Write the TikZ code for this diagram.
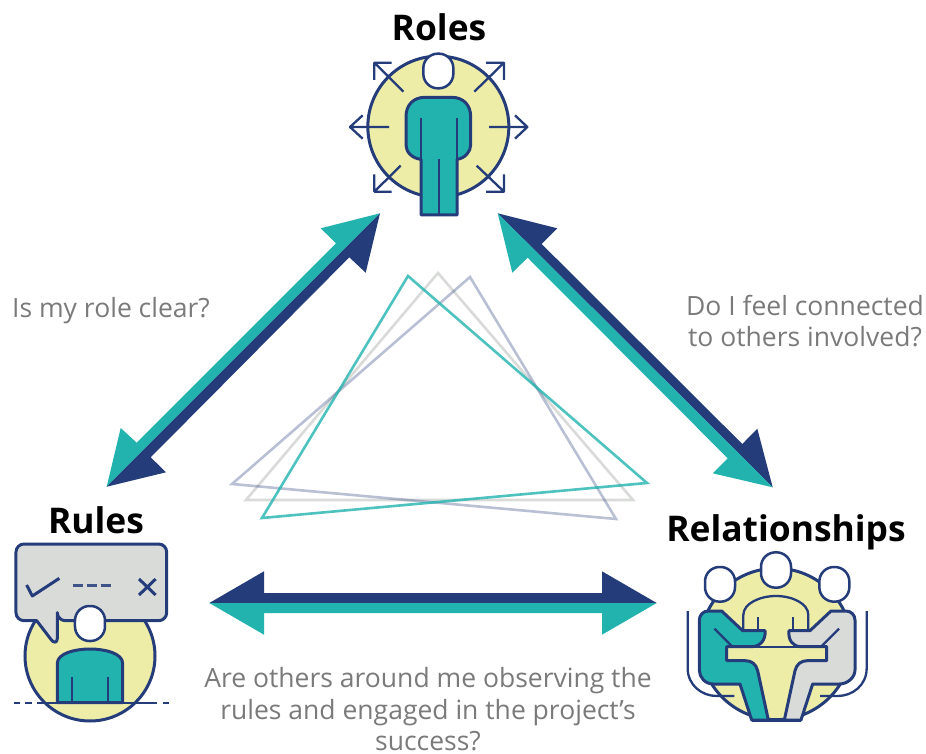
\documentclass[tikz,border=0pt]{standalone}
\usepackage{fontspec}
\setmainfont{Open Sans}
\definecolor{teal1}{HTML}{22B3AF}
\definecolor{navy1}{HTML}{243C7A}
\definecolor{yell1}{HTML}{EDEDA8}
\definecolor{gray1}{HTML}{D9DBD9}
\definecolor{txt1}{HTML}{7A7A7A}
\tikzset{
  ttl/.style={font=\fontsize{35.4}{40}\selectfont\bfseries,text=black,inner sep=0pt},
  captext/.style={font=\fontsize{26.5}{31.5}\selectfont,text=txt1,align=center,inner sep=0pt},
  ink/.style={draw=navy1,line width=3pt,line join=round},
  thin ink/.style={draw=navy1,line width=2.3pt,line join=round},
  disc/.style={ink,fill=yell1},
  headshape/.style={draw=navy1,line width=2.5pt,fill=white,rounded corners=14.5pt},
  tri/.style={line width=2.6pt,line join=miter},
  icon/.style={x=0.33333pt,y=-0.33333pt},
}
\begin{document}
\begin{tikzpicture}[x=1pt,y=-1pt]
\useasboundingbox (0,0) rectangle (926,754);
% triangles
\draw[tri,draw=gray1] (438,273) -- (633,500) -- (246,500) -- cycle;
\draw[tri,draw=navy1,draw opacity=.32] (470,277) -- (616,519) -- (232,484) -- cycle;
\draw[tri,draw=teal1,draw opacity=.8] (408,276) -- (647,483) -- (262,518) -- cycle;
% arrow ends
\coordinate (lt) at (380,213.3);
\coordinate (lb) at (106.7,486.7);
\coordinate (rt) at (497.7,213.3);
\coordinate (rb) at (772.7,487.3);
\coordinate (bl) at (209.3,603);
\coordinate (br) at (656.7,603);
% left arrow
\fill[teal1] (lt) -- (320.7,228.3) -- (336,243.3) -- (136.7,442.7) -- (120.7,428) -- (lb) -- cycle;
\fill[navy1] (lt) -- (365.7,272.7) -- (349.3,257.3) -- (150.7,457.3) -- (166,472.3) -- (lb) -- cycle;
% right arrow
\fill[navy1] (rt) -- (557.3,228.3) -- (541.7,244) -- (742.3,444) -- (757.3,428.7) -- (rb) -- cycle;
\fill[teal1] (rt) -- (512.3,272.7) -- (527.7,257.7) -- (727.7,458.3) -- (712.7,473.3) -- (rb) -- cycle;
% bottom arrow
\fill[navy1] (bl) -- (264,571.3) -- (264,593) -- (602,593) -- (602,571.3) -- (br) -- cycle;
\fill[teal1] (bl) -- (264,634.7) -- (264,613) -- (602,613) -- (602,634.7) -- (br) -- cycle;
% texts
\node[ttl] (troles) at (439,27) {Roles};
\node[ttl] (trules) at (96,520) {Rules};
\node[ttl] (trel) at (786,532) {Relationships};
\node[captext,anchor=west] (q1) at (12,311) {Is my role clear?};
\node[captext] (q2) at (805,321) {Do I feel connected\\to others involved?};
\node[captext] (q3) at (428,709.5) {Are others around me observing the\\rules and engaged in the project’s\\success?};
% Roles icon
\begin{scope}[icon,xshift=340pt,yshift=-40pt]
  \draw[disc] (295,260) circle (70.5pt);
  \draw[thin ink] (155,68) -- (103,68) -- (103,120) (103,68) -- (190,155);
  \draw[thin ink] (438,68) -- (492,68) -- (492,120) (492,68) -- (403,155);
  \draw[thin ink] (103,403) -- (103,455) -- (155,455) (103,455) -- (182,377);
  \draw[thin ink] (492,403) -- (492,455) -- (438,455) (492,455) -- (410,377);
  \draw[thin ink] (147,261) -- (30,261) (68,226) -- (30,261) -- (68,296);
  \draw[thin ink] (447,261) -- (562,261) (525,226) -- (562,261) -- (525,296);
  \draw[headshape] (250,41) rectangle (340,145);
  \draw[ink,fill=teal1] (243,525) -- (243,358)
    .. controls (215,355) and (198,335) .. (198,315) -- (198,230)
    .. controls (198,195) and (220,172) .. (255,172) -- (335,172)
    .. controls (370,172) and (392,195) .. (392,230) -- (392,315)
    .. controls (392,335) and (375,355) .. (351,358) -- (351,525) -- cycle;
  \draw[thin ink] (243,235) -- (243,358) (351,235) -- (351,358) (297,358) -- (297,525);
\end{scope}
% Rules icon
\begin{scope}[icon,yshift=-530pt]
  \draw[disc] (270,378) circle (65pt);
  \draw[ink,fill=gray1] (172,272) -- (172,325)
    .. controls (172,340) and (160,340) .. (152,327) -- (110,272) [rounded corners=8pt] -- (48,272) -- (48,42) -- (500,42) -- (500,272) -- (172,272) [sharp corners] -- cycle;
  \draw[ink] (178,145) -- (97,198) -- (80,165);
  \draw[ink,line width=2.4pt,draw opacity=.85] (218,166) -- (248,166) (260,166) -- (290,166) (302,166) -- (332,166);
  \draw[ink] (417,147) -- (467,195) (467,147) -- (417,195);
  \draw[headshape] (225,228) rectangle (315,333);
  \draw[ink,fill=teal1] (172,518) -- (172,400) .. controls (172,370) and (225,357) .. (270,357)
    .. controls (315,357) and (368,370) .. (368,400) -- (368,518) -- cycle;
  \draw[thin ink] (217,440) -- (217,518) (323,440) -- (323,518);
  \draw[thin ink] (42,518) -- (60,518) (75,518) -- (95,518) (112,518) -- (472,518) (490,518) -- (508,518);
\end{scope}
% Relationships icon
\begin{scope}[icon,xshift=670pt,yshift=-540pt]
  \draw[disc] (318,312) circle (75.7pt);
  \draw[thin ink] (53,213) -- (53,385) .. controls (53,435) and (95,468) .. (140,468) -- (193,468);
  \draw[thin ink] (590,213) -- (590,385) .. controls (590,435) and (548,468) .. (503,468) -- (450,468);
  \draw[thin ink] (220,272) -- (220,225) .. controls (220,190) and (270,168) .. (318,168)
    .. controls (366,168) and (415,190) .. (415,225) -- (415,272);
  \draw[thin ink] (265,232) -- (265,272) (370,232) -- (370,272);
  \draw[ink,fill=teal1] (245,540) -- (210,432) -- (130,432)
    .. controls (105,432) and (88,412) .. (88,390) -- (88,240)
    .. controls (88,225) and (100,213) .. (115,213) -- (155,213) -- (218,272) -- (285,272)
    .. controls (288,300) and (270,320) .. (245,320) -- (170,320) -- (170,362) -- (225,362)
    .. controls (245,362) and (258,372) .. (263,392) -- (295,540) -- cycle;
  \draw[ink,fill=gray1] (393,540) -- (428,432) -- (508,432)
    .. controls (533,432) and (555,412) .. (555,390) -- (555,240)
    .. controls (555,225) and (543,213) .. (528,213) -- (483,213) -- (420,272) -- (357,272)
    .. controls (354,300) and (368,320) .. (393,320) -- (470,320) -- (470,362) -- (413,362)
    .. controls (393,362) and (380,372) .. (375,392) -- (343,540) -- cycle;
  \draw[thin ink] (245,320) -- (393,320);
  \draw[thin ink] (133,266) -- (185,318) (507,266) -- (455,318);
  \draw[ink] (245,540) -- (393,540);
  \draw[headshape] (105,81) rectangle (195,185);
  \draw[headshape] (273,37) rectangle (363,143);
  \draw[headshape] (448,81) rectangle (538,185);
\end{scope}
\end{tikzpicture}
\end{document}
